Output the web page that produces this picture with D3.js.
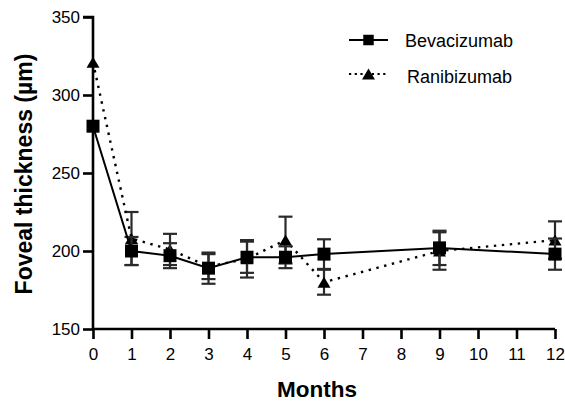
<!DOCTYPE html>
<html>
<head>
<meta charset="utf-8">
<script src="https://cdn.jsdelivr.net/npm/d3@7"></script>
<style>
  body { margin: 0; background: #fff; }
  svg text { font-family: "Liberation Sans", Arial, sans-serif; fill: #000; }
</style>
</head>
<body>
<script>
// months of follow-up
var months = [0, 1, 2, 3, 4, 5, 6, 9, 12];
var xTicks = [0, 1, 2, 3, 4, 5, 6, 7, 8, 9, 10, 11, 12];
var yTicks = [150, 200, 250, 300, 350];

// foveal thickness (µm), mean and error
var bevaMean = [280, 200, 197, 189, 196, 196, 198, 202, 198];
var bevaErr  = [0, 9, 8, 10, 10, 7, 9.5, 11, 10];
var raniMean = [321, 208, 201, 190, 195, 207, 180, 200, 207];
var raniErr  = [0, 17, 10, 8, 12, 15, 8, 12, 12];

var W = 565, H = 402;
var x = d3.scaleLinear().domain([0, 12]).range([93, 555]);
var y = d3.scaleLinear().domain([150, 350]).range([329, 17]);

var svg = d3.select("body").append("svg").attr("width", W).attr("height", H);

// small triangle marker, a bit wider than tall
function tri(w, h) {
  return "M0," + (-h / 2) + "L" + (w / 2) + "," + (h / 2) + "L" + (-w / 2) + "," + (h / 2) + "Z";
}

// axes
var yAxis = d3.axisLeft(y).tickValues(yTicks).tickSize(10).tickPadding(3);
var gy = svg.append("g").attr("transform", "translate(" + x(0) + ",0)").call(yAxis);
gy.select(".domain").attr("stroke", "#000").attr("stroke-width", 2.6).attr("d", "M-10," + y(350) + "H0V" + y(150));
gy.selectAll(".tick line").attr("stroke", "#000").attr("stroke-width", 2.6);
gy.selectAll(".tick text").style("font-size", "17px");

var xAxis = d3.axisBottom(x).tickValues(xTicks).tickSize(10).tickPadding(9);
var gx = svg.append("g").attr("transform", "translate(0," + y(150) + ")").call(xAxis);
gx.select(".domain").attr("stroke", "#000").attr("stroke-width", 2.6).attr("d", "M" + x(0) + ",0H" + x(12));
gx.selectAll(".tick line").attr("stroke", "#000").attr("stroke-width", 2.6);
gx.selectAll(".tick text").style("font-size", "17px");

// axis titles
svg.append("text").attr("x", 317).attr("y", 397)
  .attr("text-anchor", "middle").style("font-size", "22.5px").style("font-weight", "bold").text("Months");
svg.append("text").attr("transform", "translate(31.5,174) rotate(-90)")
  .attr("text-anchor", "middle").style("font-size", "23px").style("font-weight", "bold").text("Foveal thickness (µm)");

function series(mean, err, dash, isSquare) {
  var pts = months.map(function(m, i) { return { m: m, v: mean[i], e: err[i] }; });
  var g = svg.append("g");
  // error bars
  var eb = g.selectAll(".eb").data(pts.filter(function(d) { return d.e > 0; })).enter().append("g")
    .attr("stroke", "#2a2a2a").attr("stroke-width", 2.2);
  eb.append("line").attr("x1", function(d) { return x(d.m); }).attr("x2", function(d) { return x(d.m); })
    .attr("y1", function(d) { return y(d.v - d.e); }).attr("y2", function(d) { return y(d.v + d.e); });
  eb.append("line").attr("x1", function(d) { return x(d.m) - 7; }).attr("x2", function(d) { return x(d.m) + 7; })
    .attr("y1", function(d) { return y(d.v + d.e); }).attr("y2", function(d) { return y(d.v + d.e); });
  eb.append("line").attr("x1", function(d) { return x(d.m) - 7; }).attr("x2", function(d) { return x(d.m) + 7; })
    .attr("y1", function(d) { return y(d.v - d.e); }).attr("y2", function(d) { return y(d.v - d.e); });
  // line
  g.append("path").datum(pts)
    .attr("d", d3.line().x(function(d) { return x(d.m); }).y(function(d) { return y(d.v); }))
    .attr("fill", "none").attr("stroke", "#000").attr("stroke-width", dash ? 2.4 : 2)
    .attr("stroke-dasharray", dash);
  // markers
  g.selectAll(".pt").data(pts).enter().append("path")
    .attr("transform", function(d) { return "translate(" + x(d.m) + "," + y(d.v) + ")"; })
    .attr("d", isSquare ? d3.symbol().type(d3.symbolSquare).size(169) : tri(13, 11))
    .attr("fill", "#000");
}

series(raniMean, raniErr, "2.4,5.6", false);
series(bevaMean, bevaErr, null, true);

// legend
var leg = svg.append("g");
leg.append("line").attr("x1", 349).attr("x2", 388).attr("y1", 40).attr("y2", 40)
  .attr("stroke", "#000").attr("stroke-width", 2);
leg.append("path").attr("transform", "translate(368.5,40)").attr("d", d3.symbol().type(d3.symbolSquare).size(110)).attr("fill", "#000");
leg.append("text").attr("x", 405).attr("y", 47).style("font-size", "18px").text("Bevacizumab");
leg.append("line").attr("x1", 349).attr("x2", 388).attr("y1", 74).attr("y2", 74)
  .attr("stroke", "#000").attr("stroke-width", 2.2).attr("stroke-dasharray", "2.2,3.5");
leg.append("path").attr("transform", "translate(368.5,74)").attr("d", tri(13, 11)).attr("fill", "#000");
leg.append("text").attr("x", 407).attr("y", 83).style("font-size", "18px").text("Ranibizumab");
</script>
</body>
</html>
